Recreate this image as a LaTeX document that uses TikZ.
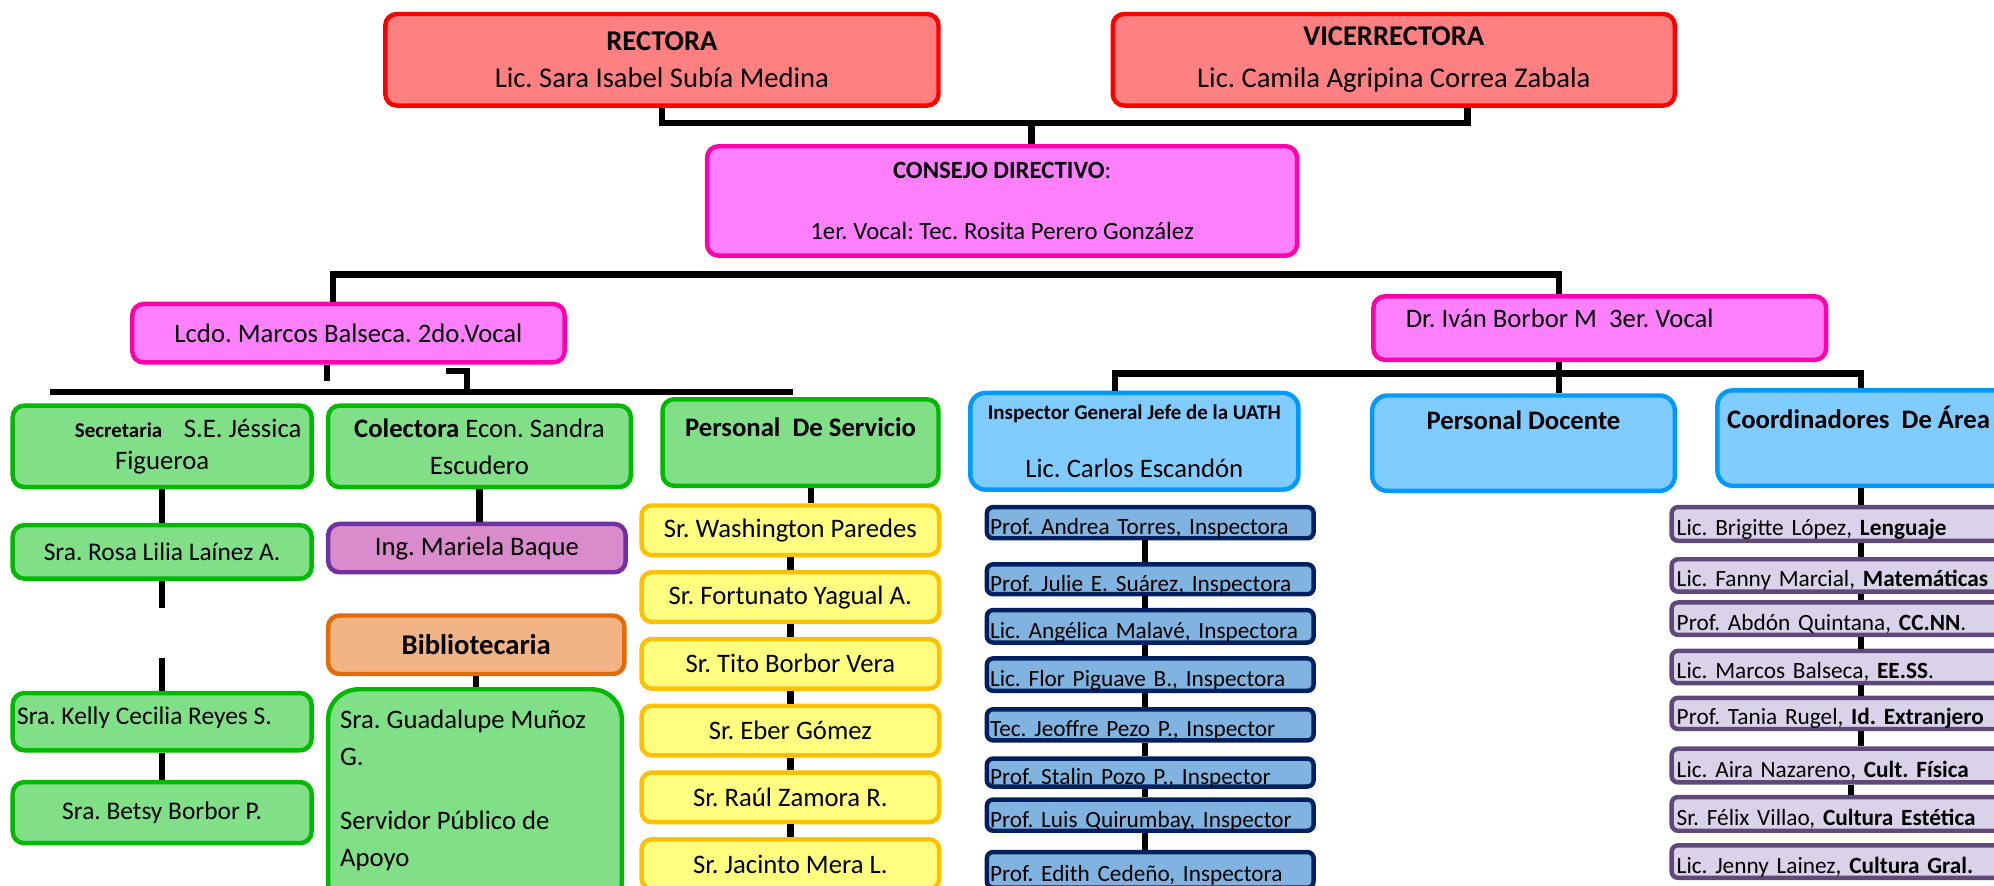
\documentclass[tikz,border=0pt]{standalone}
\usepackage{fontspec}
\setmainfont{Carlito}
\usetikzlibrary{positioning}

\definecolor{redline}{RGB}{255,0,0}
\definecolor{redfill}{RGB}{255,128,128}
\definecolor{pinkline}{RGB}{255,0,170}
\definecolor{pinkfill}{RGB}{255,128,255}
\definecolor{greenline}{RGB}{0,185,0}
\definecolor{greenfill}{RGB}{128,223,135}
\definecolor{violetline}{RGB}{112,48,160}
\definecolor{violetfill}{RGB}{217,139,204}
\definecolor{orangeline}{RGB}{227,108,10}
\definecolor{orangefill}{RGB}{242,180,132}
\definecolor{yellowline}{RGB}{255,192,0}
\definecolor{yellowfill}{RGB}{255,255,128}
\definecolor{skyline}{RGB}{0,153,255}
\definecolor{skyfill}{RGB}{128,204,255}
\definecolor{navyline}{RGB}{0,32,96}
\definecolor{navyfill}{RGB}{128,179,223}
\definecolor{lilacline}{RGB}{95,73,122}
\definecolor{lilacfill}{RGB}{217,210,233}

\newcommand{\fsTop}{\fontsize{22.5pt}{29pt}\selectfont}
\newcommand{\fsBoard}{\fontsize{19.5pt}{24pt}\selectfont}
\newcommand{\fsMid}{\fontsize{21pt}{25pt}\selectfont}
\newcommand{\fsSub}{\fontsize{20pt}{24pt}\selectfont}
\newcommand{\fsSmall}{\fontsize{16.5pt}{20pt}\selectfont}
\newcommand{\fsItem}{\fontsize{18.3pt}{22pt}\selectfont}

\begin{document}
\frenchspacing
\begin{tikzpicture}[
	x=1pt, y=-1pt,
	every node/.style={font=\fsMid, inner sep=2pt, node distance=10pt},
	box/.style={rectangle, rounded corners=9pt, line width=3.5pt, align=center},
	redbox/.style={box, draw=redline, fill=redfill, font=\fsTop, minimum height=72pt},
	pinkbox/.style={box, draw=pinkline, fill=pinkfill},
	greenbox/.style={box, draw=greenline, fill=greenfill, minimum width=235pt},
	yellowbox/.style={box, rounded corners=8pt, draw=yellowline, fill=yellowfill, minimum width=234pt, minimum height=39pt},
	skybox/.style={box, rounded corners=12pt, draw=skyline, fill=skyfill, minimum height=75pt},
	navybox/.style={box, rounded corners=5pt, draw=navyline, fill=navyfill, font=\fsItem, minimum width=257pt, text width=252pt, align=left, text height=19pt, text depth=0pt, inner ysep=1pt},
	lilacbox/.style={box, rounded corners=5pt, draw=lilacline, fill=lilacfill, font=\fsItem, minimum width=284pt, text width=276pt, align=left, text height=18pt, text depth=0pt, inner ysep=1pt},
	wire/.style={line width=5pt}
	]

\fill [white] (0,0) rectangle (1568,696);
\useasboundingbox (0,0) rectangle (1568,696);

% Rectorado
\node [redbox, minimum width=435pt] (rectora) at (520.5,47) {\textbf{RECTORA}\\Lic. Sara Isabel Subía Medina};
\node [redbox, minimum width=442pt] (vice) at (1096,47) {\textbf{VICERRECTORA}\\[4pt]Lic. Camila Agripina Correa Zabala};

% Consejo directivo y vocales
\node [pinkbox, font=\fsBoard, minimum width=464pt, minimum height=86pt] (consejo) at (788,158) {\textbf{CONSEJO DIRECTIVO}:\\[24pt]1er. Vocal: Tec. Rosita Perero González};
\node [pinkbox, minimum width=340pt, minimum height=46pt] (lcdo) at (274,262) {Lcdo. Marcos Balseca. 2do.Vocal};
\node [pinkbox, minimum width=356pt, minimum height=50pt] (ivan) at (1258,258) {};
\node [anchor=west] (ivantxt) at ([xshift=25pt,yshift=8pt]ivan.west) {Dr. Iván Borbor M\ \ 3er. Vocal};

% Secretaria
\node [greenbox, minimum height=64pt] (secretaria) at (127.5,351) {\hspace*{41pt}{\fsSmall\bfseries Secretaria}\hspace{17pt}S.E. Jéssica\\Figueroa};
\node [greenbox, font=\fsSub, minimum height=42pt] (rosa) at (127.5,434) {Sra. Rosa Lilia Laínez A.};
\node [greenbox, minimum height=45pt] (kelly) at (127.5,567.5) {};
\node [anchor=west, font=\fsSub] (kellytxt) at ([xshift=3pt,yshift=3.5pt]kelly.west) {Sra. Kelly Cecilia Reyes S.};
\node [greenbox, font=\fsSub, minimum height=48pt] (betsy) at (127.5,639) {Sra. Betsy Borbor P.};

% Colectora y biblioteca
\node [greenbox, minimum width=238pt, minimum height=64pt] (colectora) at (377,351) {\textbf{Colectora} Econ. Sandra\\[4pt]Escudero};
\node [box, draw=violetline, fill=violetfill, minimum width=234pt, minimum height=38pt] (mariela) at (375,431) {Ing. Mariela Baque};
\node [box, draw=orangeline, fill=orangefill, font=\fsTop, minimum width=233pt, minimum height=46pt] (biblio) at (374.5,507) {\textbf{Bibliotecaria}};
\node [greenbox, rounded corners=24pt, minimum width=231pt, minimum height=176pt] (guadalupe) at (373.5,630) {};
\node [anchor=north west, inner sep=0pt, align=left, font=\fontsize{21pt}{29pt}\selectfont] (guadalupetxt) at ([xshift=11pt,yshift=-18pt]guadalupe.north west) {Sra. Guadalupe Muñoz\\G.\\[21pt]Servidor Público de\\Apoyo};

% Personal de servicio
\node [greenbox, minimum width=217pt, minimum height=68pt] (servicio) at (629.5,348) {};
\node (serviciotxt) at ([yshift=-24pt]servicio.north) {\textbf{Personal\ \ De Servicio}};
\node [yellowbox] (washington) at (621.5,417) {Sr. Washington Paredes};
\node [yellowbox, below=of washington] (fortunato) {Sr. Fortunato Yagual A.};
\node [yellowbox, below=of fortunato] (tito) {Sr. Tito Borbor Vera};
\node [yellowbox, below=of tito] (eber) {Sr. Eber Gómez};
\node [yellowbox, below=of eber] (raul) {Sr. Raúl Zamora R.};
\node [yellowbox, below=of raul] (jacinto) {Sr. Jacinto Mera L.};

% Inspeccion
\node [skybox, minimum width=258pt, minimum height=76pt] (inspector) at (892,347) {{\fsSmall\bfseries Inspector General Jefe de la UATH}\\[21pt]Lic. Carlos Escandón};
\node [navybox, minimum height=24.5pt] (andrea) at (904.5,411) {Prof. Andrea Torres, Inspectora};
\node [navybox, minimum height=23.5pt] (julie) at (904.5,455.5) {Prof. Julie E. Suárez, Inspectora};
\node [navybox, minimum height=25.5pt] (angelica) at (904.5,492.5) {Lic. Angélica Malavé, Inspectora};
\node [navybox, minimum height=25.5pt] (flor) at (904.5,530.5) {Lic. Flor Piguave B., Inspectora};
\node [navybox, minimum height=24.5pt] (jeoffre) at (904.5,570) {Tec. Jeoffre Pezo P., Inspector};
\node [navybox, minimum height=22pt] (stalin) at (904.5,607.5) {Prof. Stalin Pozo P., Inspector};
\node [navybox, minimum height=24.5pt] (luis) at (904.5,641) {Prof. Luis Quirumbay, Inspector};
\node [navybox, minimum height=28pt] (edith) at (904.5,684) {Prof. Edith Cedeño, Inspectora};

% Docentes y coordinadores
\node [skybox, minimum width=238pt] (docente) at (1198,348.5) {};
\node (docentetxt) at ([yshift=-21pt]docente.north) {\textbf{Personal Docente}};
\node [skybox, minimum width=248pt] (coord) at (1474.5,344.5) {};
\node (coordtxt) at ([xshift=-13pt,yshift=-23pt]coord.north) {\textbf{Coordinadores\ \ De Área}};
\node [lilacbox, minimum height=26.5pt] (lenguaje) at (1456.5,412) {Lic. Brigitte López, \textbf{Lenguaje}};
\node [lilacbox, minimum height=25.5pt] (matematicas) at (1456.5,452.5) {Lic. Fanny Marcial, \textbf{Matemáticas}};
\node [lilacbox, minimum height=25.5pt] (ccnn) at (1456.5,486.5) {Prof. Abdón Quintana, \textbf{CC.NN}.};
\node [lilacbox, minimum height=25.5pt] (eess) at (1456.5,524.5) {Lic. Marcos Balseca, \textbf{EE.SS}.};
\node [lilacbox, minimum height=24.5pt] (extranjero) at (1456.5,561) {Prof. Tania Rugel, \textbf{Id. Extranjero}};
\node [lilacbox, minimum height=26.5pt] (fisica) at (1456.5,602) {Lic. Aira Nazareno, \textbf{Cult. Física}};
\node [lilacbox, minimum height=26.5pt] (estetica) at (1456.5,640) {Sr. Félix Villao, \textbf{Cultura Estética}};
\node [lilacbox, minimum height=25.5pt] (gral) at (1456.5,677.5) {Lic. Jenny Lainez, \textbf{Cultura Gral.}};

% Connectors: top
\draw [wire] (rectora.south) -- ++(0,12) -| ([xshift=58pt]vice.south);
\draw [wire] ([xshift=23pt]consejo.north) -- ++(0,-16);
\coordinate (cbar) at ([yshift=-13pt]consejo.south);
\draw [wire] ([xshift=-12pt]lcdo.north) |- (cbar) -| ([xshift=-32pt]ivan.north);

% Connectors: 2do vocal
\coordinate (lbar) at ([xshift=31pt,yshift=9pt]secretaria.north west);
\coordinate (lend) at ([xshift=-6pt]servicio.north);
\coordinate (lhook) at ([xshift=93pt]lcdo.south);
\draw [wire] (lbar) -- (lbar -| lend);
\draw [wire] ([xshift=-17pt]lcdo.south) -- ++(0,13);
\draw [wire] ([xshift=77pt,yshift=-5pt]lcdo.south) -| (lhook |- lbar);

\draw [wire] (secretaria.south) -- (rosa.north);
\draw [wire] (rosa.south) -- ++(0,21);
\draw [wire] (kelly.north) -- ++(0,-26);
\draw [wire] (kelly.south) -- (betsy.north);
\draw [wire] (colectora.south) -- (colectora.south |- mariela.north);
\draw [wire] (biblio.south) -- (biblio.south |- guadalupe.north);

\coordinate (servdrop) at ([xshift=8pt]servicio.south);
\draw [wire] (servdrop) -- (servdrop |- washington.north);
\foreach \a/\b in {washington/fortunato, fortunato/tito, tito/eber, eber/raul, raul/jacinto}
	\draw [wire] (\a.south) -- (\b.north);

% Connectors: 3er vocal
\coordinate (idrop) at ([xshift=-32pt]ivan.south);
\coordinate (rbar) at ([yshift=-9pt]idrop);
\coordinate (ihook) at ([xshift=-15pt]inspector.north);
\coordinate (chook) at ([xshift=-11pt]coord.north);
\draw [wire] (idrop) -- (idrop |- docente.north);
\draw [wire] (ihook) |- (rbar) -| (chook);

\foreach \a/\b in {andrea/julie, julie/angelica, angelica/flor, flor/jeoffre, jeoffre/stalin, stalin/luis, luis/edith}
	\draw [wire] ([xshift=-4pt]\a.south) -- ([xshift=-4pt]\b.north);

\coordinate (cdrop) at ([xshift=-11pt]coord.south);
\coordinate (fhook) at ([xshift=-8pt]cdrop);
\draw [wire] (cdrop) -- (cdrop |- lenguaje.north);
\foreach \a/\b in {lenguaje/matematicas, matematicas/ccnn, ccnn/eess, eess/extranjero, extranjero/fisica}
	\draw [wire] (cdrop |- \a.south) -- (cdrop |- \b.north);
\draw [wire] (fhook |- fisica.south) -- (fhook |- estetica.north);

\end{tikzpicture}
\end{document}
